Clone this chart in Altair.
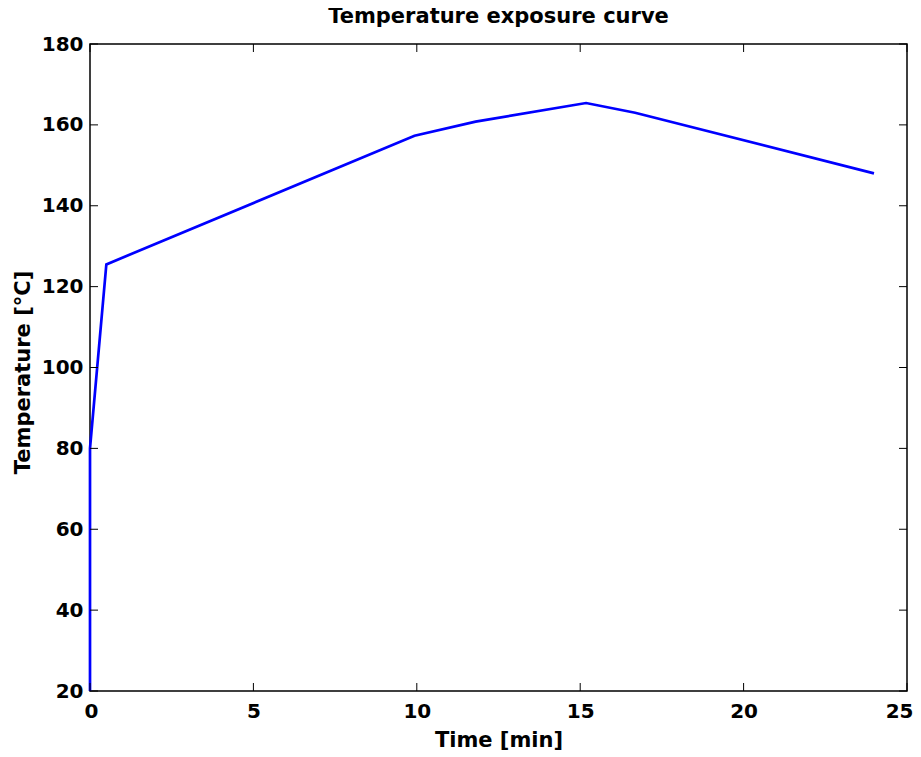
import altair as alt
import pandas as pd

# Data
time_min = [0.0, 0.0, 0.5, 9.93, 11.8, 15.18, 16.68, 23.99]
temp_c = [20.0, 80.0, 125.5, 157.3, 160.8, 165.4, 163.0, 148.0]
x_ticks = [0, 5, 10, 15, 20, 25]
y_ticks = [20, 40, 60, 80, 100, 120, 140, 160, 180]

W, H = 817, 647
FONT = "DejaVu Sans"
TL = 8  # inward tick length

df = pd.DataFrame({"t": time_min, "T": temp_c, "order": list(range(len(time_min)))})
xt = pd.DataFrame({"t": x_ticks})
yt = pd.DataFrame({"T": y_ticks})

xs = alt.Scale(domain=[0, 25], nice=False, zero=False)
ys = alt.Scale(domain=[20, 180], nice=False, zero=False)

xaxis = alt.Axis(values=x_ticks, title="Time [min]", format="d",
                 labelPadding=10, labelFlush=True, labelFlushOffset=6,
                 titleX=W / 2, titleY=55, titleBaseline="alphabetic")
yaxis = alt.Axis(values=y_ticks, title="Temperature [°C]", format="d",
                 labelPadding=7, labelFlush=False, titleX=-67, titleY=328,
                 titleBaseline="middle")

line = alt.Chart(df).mark_line(color="#0000FF", strokeWidth=2.7).encode(
    x=alt.X("t:Q", scale=xs, axis=xaxis),
    y=alt.Y("T:Q", scale=ys, axis=yaxis),
    order="order:Q",
)

x_bot = alt.Chart(xt).mark_rule(color="black", strokeWidth=1).encode(
    x=alt.X("t:Q", scale=xs, axis=xaxis), y=alt.value(H), y2=alt.value(H - TL))
x_top = alt.Chart(xt).mark_rule(color="black", strokeWidth=1).encode(
    x=alt.X("t:Q", scale=xs, axis=xaxis), y=alt.value(0), y2=alt.value(TL))
y_left = alt.Chart(yt).mark_rule(color="black", strokeWidth=1).encode(
    y=alt.Y("T:Q", scale=ys, axis=yaxis), x=alt.value(0), x2=alt.value(TL))
y_right = alt.Chart(yt).mark_rule(color="black", strokeWidth=1).encode(
    y=alt.Y("T:Q", scale=ys, axis=yaxis), x=alt.value(W), x2=alt.value(W - TL))

chart = alt.layer(line, x_bot, x_top, y_left, y_right).properties(
    width=W, height=H,
    autosize=alt.AutoSizeParams(type="none"),
    padding={"left": 82, "top": 36, "right": 6, "bottom": 66},
    title=alt.TitleParams("Temperature exposure curve", font=FONT, fontSize=21,
                          fontWeight="bold", color="black", anchor="middle",
                          baseline="alphabetic", offset=11, dy=21),
    background="white",
).configure_view(
    stroke="black", strokeWidth=1.5
).configure_axis(
    labelFont=FONT, labelFontSize=20, labelFontWeight="bold", labelColor="black",
    titleFont=FONT, titleFontSize=21, titleFontWeight="bold", titleColor="black",
    ticks=False, grid=False, domain=False,
)

chart.save("out.html", embed_options={"renderer": "svg", "actions": False})
